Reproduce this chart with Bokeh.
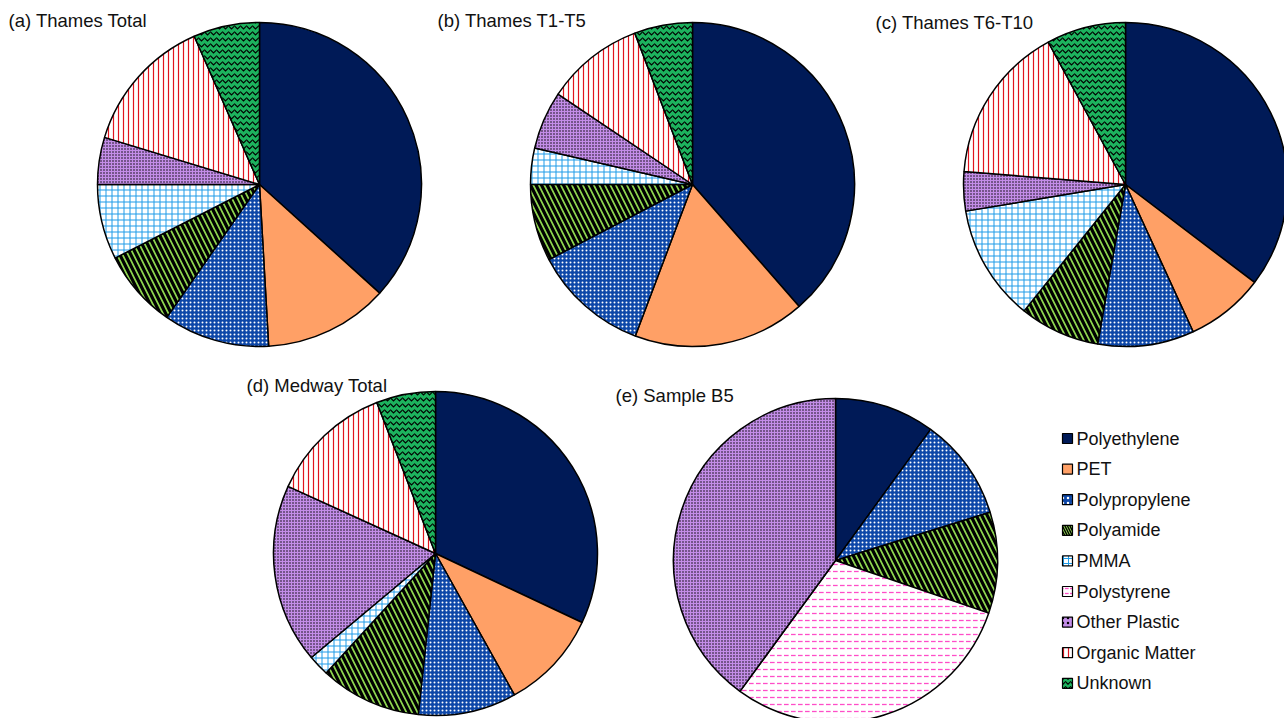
from bokeh.plotting import figure
from bokeh.models import Range1d, ColumnDataSource
from bokeh.core.properties import value
from bokeh.embed import file_html
from bokeh.resources import INLINE
import math

# Polymer categories, in the order the slices are drawn (clockwise from 12 o'clock)
categories = ["Polyethylene", "PET", "Polypropylene", "Polyamide", "PMMA",
              "Polystyrene", "Other Plastic", "Organic Matter", "Unknown"]

# Share of particles per category (%)
thames_total = [36.7, 12.4, 10.6, 7.8, 7.5, 0.0, 4.7, 13.7, 6.6]
thames_t1_t5 = [38.6, 17.2, 11.6, 7.7, 3.6, 0.0, 5.8, 9.8, 5.8]
thames_t6_t10 = [35.3, 7.8, 9.6, 8.0, 11.6, 0.0, 3.9, 15.8, 7.9]
medway_total = [32.0, 9.9, 9.8, 10.1, 2.1, 0.0, 17.9, 12.3, 5.9]
sample_b5 = [10.0, 0.0, 10.2, 10.1, 0.0, 29.8, 40.0, 0.0, 0.0]

panel_titles = ["(a) Thames Total", "(b) Thames T1-T5", "(c) Thames T6-T10",
                "(d) Medway Total", "(e) Sample B5"]
panel_values = [thames_total, thames_t1_t5, thames_t6_t10, medway_total, sample_b5]

# Fill / hatch styling per category
fill_colors = ["#001a57", "#ffa066", "#0d47a8", "#8fd650", "#ffffff",
               "#ffffff", "#c38de8", "#ffffff", "#1db35e"]
hatch_patterns = [" ", " ", "dot", "left_diagonal_line", "cross",
                  "horizontal_dash", "dot", "vertical_line", "horizontal_wave"]
hatch_colors = ["#000000", "#000000", "#ffffff", "#000000", "#1e9be8",
                "#ff4dc8", "#000000", "#e0141e", "#000000"]
hatch_scales = [6, 6, 4, 11, 6, 7, 3, 5, 6]
hatch_weights = [1, 1, 1.3, 3.2, 1, 1.3, 2.8, 1.2, 1.2]

W, H = 1284, 718

# Page layout (pixel positions of pie centres and panel titles)
pie_centers = [(259, 184), (692, 184), (1125, 184), (435, 553), (835, 560)]
pie_radius = 162
title_pos = [(8, 20), (437, 20), (875, 22), (246, 385), (615, 395)]
legend_x, legend_y0, legend_dy = 1067, 438, 30.6

p = figure(width=W, height=H, output_backend="svg", toolbar_location=None,
           x_range=Range1d(0, W), y_range=Range1d(0, H), min_border=0)
p.axis.visible = False
p.grid.visible = False
p.outline_line_color = None
p.background_fill_color = "white"
p.border_fill_color = "white"

wedge = dict(x=[], y=[], start=[], end=[], fill=[], hp=[], hc=[], hs=[], hw=[])
for vals, (cx, cy) in zip(panel_values, pie_centers):
    total = sum(vals)
    cum = 0.0
    for i, v in enumerate(vals):
        if v <= 0:
            continue
        a0 = cum / total * 2 * math.pi
        cum += v
        a1 = cum / total * 2 * math.pi
        wedge["x"].append(cx)
        wedge["y"].append(H - cy)
        wedge["start"].append(math.pi / 2 - a0)
        wedge["end"].append(math.pi / 2 - a1)
        wedge["fill"].append(fill_colors[i])
        wedge["hp"].append(hatch_patterns[i])
        wedge["hc"].append(hatch_colors[i])
        wedge["hs"].append(hatch_scales[i])
        wedge["hw"].append(hatch_weights[i])

src = ColumnDataSource(wedge)
p.wedge(x="x", y="y", radius=pie_radius, start_angle="start", end_angle="end",
        direction="clock", source=src, fill_color="fill", hatch_pattern="hp",
        hatch_color="hc", hatch_scale="hs", hatch_weight="hw",
        line_color="black", line_width=1.5)

# Panel titles
p.text(x=[t[0] for t in title_pos], y=[H - t[1] for t in title_pos],
       text=panel_titles, text_font=value("Liberation Sans"),
       text_font_size="18.5px", text_baseline="middle", text_align="left",
       text_color="#111111")

# Legend
ly = [H - (legend_y0 + k * legend_dy) for k in range(len(categories))]
leg = ColumnDataSource(dict(x=[legend_x] * len(categories), y=ly,
                            fill=fill_colors, hp=hatch_patterns, hc=hatch_colors,
                            hw=[min(w, 1.4) for w in hatch_weights],
                            label=categories))
p.rect(x="x", y="y", width=10, height=10, source=leg, fill_color="fill",
       hatch_pattern="hp", hatch_color="hc", hatch_scale=5, hatch_weight="hw",
       line_color="black", line_width=1.2)
p.text(x=legend_x + 9, y="y", text="label", source=leg,
       text_font=value("Liberation Sans"), text_font_size="18px",
       text_baseline="middle", text_align="left", text_color="#111111")

open("out.html", "w").write(file_html(p, INLINE))
